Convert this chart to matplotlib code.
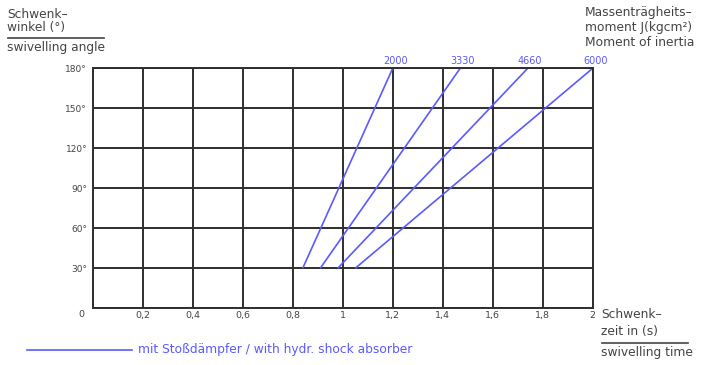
import matplotlib
matplotlib.use("Agg")
import matplotlib.pyplot as plt
import numpy as np

# Moment of inertia curves (kgcm^2): swivel time at 30° and at 180°
inertia = [2000, 3330, 4660, 6000]
time_at_30 = [0.84, 0.91, 0.98, 1.05]
time_at_180 = [1.20, 1.47, 1.74, 2.00]
angle_range = [30, 180]

x_ticks = [0, 0.2, 0.4, 0.6, 0.8, 1.0, 1.2, 1.4, 1.6, 1.8, 2.0]
x_tick_labels = ["", "0,2", "0,4", "0,6", "0,8", "1", "1,2", "1,4", "1,6", "1,8", "2"]
y_ticks = [0, 30, 60, 90, 120, 150, 180]
y_tick_labels = ["", "30°", "60°", "90°", "120°", "150°", "180°"]

W, H = 709, 365
BLUE = "#5a5aff"
GRID = "#2e2e2e"
TXT = "#444444"
FS = 8.8

fig = plt.figure(figsize=(W / 100, H / 100), dpi=100)
ax = fig.add_axes([92.7 / W, 1 - 308.3 / H, 500 / W, 240 / H])
ax.set_xlim(0, 2)
ax.set_ylim(0, 180)
ax.set_xticks(x_ticks)
ax.set_xticklabels(x_tick_labels, fontsize=6.8, color=TXT)
ax.set_yticks(y_ticks)
ax.set_yticklabels(y_tick_labels, fontsize=6.5, color=TXT)
ax.tick_params(axis="x", length=0, pad=2)
ax.tick_params(axis="y", length=0, pad=4)
ax.grid(True, color=GRID, lw=1.4)
for s in ax.spines.values():
    s.set_color(GRID)
    s.set_linewidth(1.4)

for j, t0, t1 in zip(inertia, time_at_30, time_at_180):
    ax.plot([t0, t1], angle_range, color=BLUE, lw=1.2, solid_capstyle="butt", clip_on=False)
    ax.text(t1 + 0.01, angle_range[1] + 2, str(j), color=BLUE, fontsize=7,
            ha="center", va="bottom", clip_on=False)

# Shared origin label
ax.text(-0.035, -5, "0", fontsize=6.8, color=TXT, ha="right", va="center")


def ftext(x, y, s, **kw):
    kw.setdefault("color", TXT)
    kw.setdefault("fontsize", FS)
    fig.text(x / W, 1 - y / H, s, va="center", ha="left", **kw)


def fline(x0, x1, y, color=TXT, lw=1.0):
    fig.add_artist(plt.Line2D([x0 / W, x1 / W], [1 - y / H, 1 - y / H],
                              color=color, lw=lw, transform=fig.transFigure))


# y-axis title
ftext(7, 15, "Schwenk–")
ftext(7, 28, "winkel (°)")
fline(8, 104, 37.5, lw=1.2)
ftext(7, 48, "swivelling angle")

# curve family title
ftext(585, 12.5, "Massenträgheits–")
ftext(585, 28, "moment J(kgcm²)")
ftext(585, 43, "Moment of inertia")

# x-axis title
ftext(601, 315, "Schwenk–")
ftext(601, 331.5, "zeit in (s)")
fline(602, 688, 342.7, lw=1.2)
ftext(601, 352.5, "swivelling time")

# legend
fline(27, 132, 350, color=BLUE, lw=1.2)
ftext(138, 350, "mit Stoßdämpfer / with hydr. shock absorber", color=BLUE)

fig.savefig("out.png", dpi=100)
